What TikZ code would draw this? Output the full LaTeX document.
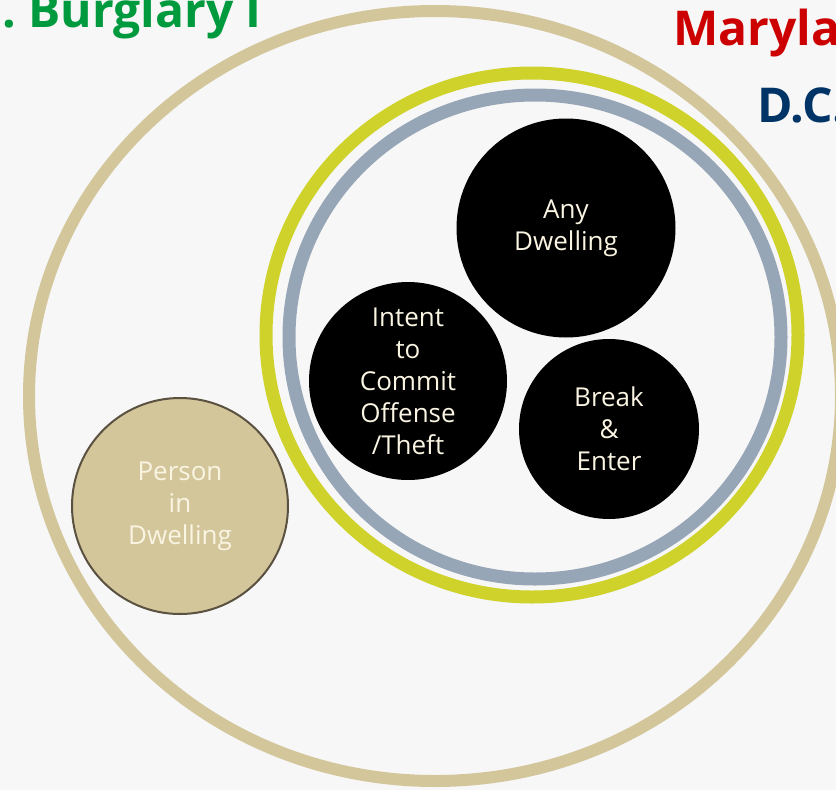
\documentclass[tikz,border=0pt]{standalone}
\usepackage{fontspec}
\setmainfont{Open Sans}
\usetikzlibrary{positioning}

\definecolor{bgcol}{HTML}{F7F7F7}
\definecolor{tancol}{HTML}{D3C69B}
\definecolor{limecol}{HTML}{CFD22A}
\definecolor{slatecol}{HTML}{97A6B7}
\definecolor{creamcol}{HTML}{FAF4E2}
\definecolor{edgecol}{HTML}{5A5140}
\definecolor{burgreen}{HTML}{009A3E}
\definecolor{mdred}{HTML}{CC0000}
\definecolor{dcblue}{HTML}{003366}

\begin{document}
\begin{tikzpicture}[x=1pt, y=-1pt,
  element/.style={circle, fill=black, text=creamcol, align=center, inner sep=0pt,
    font=\fontsize{26}{32}\selectfont, execute at begin node={\rule{0pt}{27pt}}},
  ring/.style={line width=13pt},
  title/.style={inner sep=0pt, font=\fontsize{48}{48}\selectfont\bfseries}]

\fill[bgcol] (0,0) rectangle (836,790);
\useasboundingbox (0,0) rectangle (836,790);

% outer rings
\draw[ring, tancol, line width=12pt] (435,396) ellipse [x radius=406pt, y radius=385pt];
\draw[ring, limecol] (532,335) ellipse [x radius=266pt, y radius=262pt];
\draw[ring, slatecol] (535,337) ellipse [x radius=246pt, y radius=242pt];

% elements
\node (any)[element, minimum size=219pt] at (566,228) {Any\\Dwelling};
\node (intent)[element, minimum size=198pt] at (408,381) {Intent\\to\\Commit\\Offense\\/Theft};
\node (break)[element, minimum size=180pt] at (609,429) {Break\\\&\\Enter};
\node (person)[element, fill=tancol, draw=edgecol, line width=2pt, minimum size=216pt]
  at (180,506) {Person\\in\\Dwelling};

% titles
\node (burg)[title, text=burgreen, anchor=base east] at (262,27) {C. Burglary I};
\node (md)[title, text=mdred, anchor=base west] at (673,45) {Maryland};
\node (dc)[title, text=dcblue, anchor=base west] at (757,122) {D.C.};
\end{tikzpicture}
\end{document}
